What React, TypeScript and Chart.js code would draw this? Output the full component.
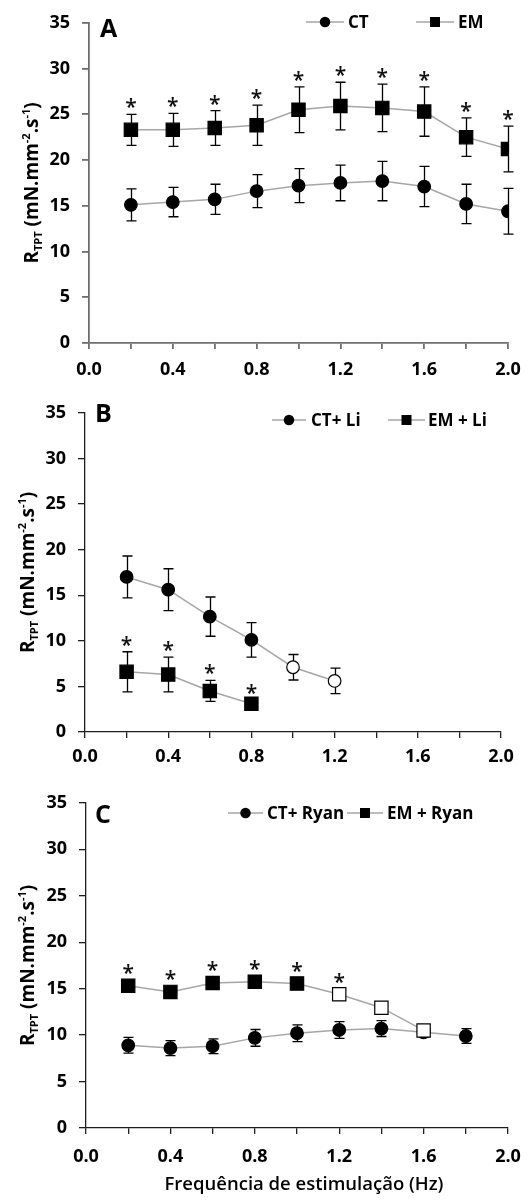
import { useEffect, useRef } from 'react';
import { Chart, registerables } from 'chart.js';

Chart.register(...registerables);

const FONT = '"Open Sans", "Noto Sans", "DejaVu Sans", sans-serif';
const WIDTH = 531;

// Shared axes
const xTicks = [0, 0.2, 0.4, 0.6, 0.8, 1.0, 1.2, 1.4, 1.6, 1.8, 2.0];
const xLabelTicks = [0, 0.4, 0.8, 1.2, 1.6, 2.0];
const yTicks = [0, 5, 10, 15, 20, 25, 30, 35];

// Panel A: CT vs EM
const freqA = [0.2, 0.4, 0.6, 0.8, 1.0, 1.2, 1.4, 1.6, 1.8, 2.0];
const ctA = [15.1, 15.4, 15.7, 16.6, 17.2, 17.5, 17.7, 17.1, 15.2, 14.4];
const ctAErr = [1.75, 1.6, 1.65, 1.8, 1.85, 1.95, 2.15, 2.2, 2.15, 2.5];
const emA = [23.3, 23.3, 23.5, 23.8, 25.5, 25.9, 25.7, 25.3, 22.5, 21.2];
const emAErr = [1.7, 1.8, 1.9, 2.2, 2.5, 2.6, 2.6, 2.7, 2.1, 2.5];
const emAStar = [true, true, true, true, true, true, true, true, true, true];

// Panel B: CT + Li vs EM + Li
const freqBct = [0.2, 0.4, 0.6, 0.8, 1.0, 1.2];
const ctB = [17.0, 15.6, 12.65, 10.1, 7.1, 5.6];
const ctBErr = [2.3, 2.3, 2.15, 1.9, 1.4, 1.4];
const ctBOpen = [false, false, false, false, true, true];
const freqBem = [0.2, 0.4, 0.6, 0.8];
const emB = [6.6, 6.3, 4.5, 3.1];
const emBErr = [2.2, 1.9, 1.15, 0.4];
const emBStar = [true, true, true, true];

// Panel C: CT + Ryan vs EM + Ryan
const freqCct = [0.2, 0.4, 0.6, 0.8, 1.0, 1.2, 1.4, 1.6, 1.8];
const ctC = [8.9, 8.6, 8.8, 9.7, 10.2, 10.55, 10.7, 10.3, 9.9];
const ctCErr = [0.85, 0.8, 0.8, 0.9, 0.9, 0.9, 0.85, 0.5, 0.8];
const freqCem = [0.2, 0.4, 0.6, 0.8, 1.0, 1.2, 1.4, 1.6];
const emC = [15.3, 14.65, 15.6, 15.75, 15.55, 14.4, 12.95, 10.5];
const emCErr = [0.6, 0.6, 0.6, 0.6, 0.6, 0.6, 0.5, 0.5];
const emCOpen = [false, false, false, false, false, true, true, true];
const emCStar = [true, true, true, true, true, true, false, false];

const none = (n: number) => new Array(n).fill(false);

type Series = {
  label: string;
  x: number[];
  y: number[];
  err: number[];
  open: boolean[];
  star: boolean[];
  marker: 'circle' | 'rect';
};

type LegendSlot = { from: number; to: number; textX: number };

type PanelSpec = {
  letter: string;
  top: number;
  height: number;
  area: { left: number; right: number; top: number; bottom: number };
  axisColor: string;
  axisWidth: number;
  xLabelGap: number;
  letterPos: [number, number];
  legendY: number;
  legend: LegendSlot[];
  yTitleX: number;
  xTitle?: { text: string; x: number; y: number };
  series: Series[];
};

const panels: PanelSpec[] = [
  {
    letter: 'A',
    top: 0,
    height: 390,
    area: { left: 89, right: 508, top: 15, bottom: 343 },
    axisColor: '#6f6f6f',
    axisWidth: 1.8,
    xLabelGap: 27,
    letterPos: [100, 37],
    legendY: 22,
    legend: [
      { from: 306, to: 344, textX: 348 },
      { from: 416, to: 454, textX: 458 },
    ],
    yTitleX: 38,
    series: [
      { label: 'CT', x: freqA, y: ctA, err: ctAErr, open: none(10), star: none(10), marker: 'circle' },
      { label: 'EM', x: freqA, y: emA, err: emAErr, open: none(10), star: emAStar, marker: 'rect' },
    ],
  },
  {
    letter: 'B',
    top: 390,
    height: 390,
    area: { left: 85, right: 501, top: 14, bottom: 342 },
    axisColor: '#1e1e1e',
    axisWidth: 1.3,
    xLabelGap: 25,
    letterPos: [95, 32],
    legendY: 30,
    legend: [
      { from: 272, to: 306, textX: 311 },
      { from: 388, to: 425, textX: 428 },
    ],
    yTitleX: 34,
    series: [
      { label: 'CT+ Li', x: freqBct, y: ctB, err: ctBErr, open: ctBOpen, star: none(6), marker: 'circle' },
      { label: 'EM + Li', x: freqBem, y: emB, err: emBErr, open: none(4), star: emBStar, marker: 'rect' },
    ],
  },
  {
    letter: 'C',
    top: 780,
    height: 423,
    area: { left: 86, right: 508, top: 20, bottom: 348 },
    axisColor: '#1e1e1e',
    axisWidth: 1.3,
    xLabelGap: 29,
    letterPos: [95, 43],
    legendY: 33,
    legend: [
      { from: 228, to: 263, textX: 267 },
      { from: 347, to: 383, textX: 387 },
    ],
    yTitleX: 34,
    xTitle: { text: 'Frequência de estimulação (Hz)', x: 304, y: 410 },
    series: [
      { label: 'CT+ Ryan', x: freqCct, y: ctC, err: ctCErr, open: none(9), star: none(9), marker: 'circle' },
      { label: 'EM + Ryan', x: freqCem, y: emC, err: emCErr, open: emCOpen, star: emCStar, marker: 'rect' },
    ],
  },
];

// Y-axis title pieces: R with subscript TPT, unit with superscript exponents
const yTitleParts: { t: string; k: 'n' | 'sub' | 'sup' }[] = [
  { t: 'R', k: 'n' },
  { t: 'TPT', k: 'sub' },
  { t: ' (mN.mm', k: 'n' },
  { t: '-2', k: 'sup' },
  { t: '.s', k: 'n' },
  { t: '-1', k: 'sup' },
  { t: ')', k: 'n' },
];

const LINE_GREY = '#a6a6a6';
const TICK_FONT = `bold 18px ${FONT}`;

function drawMarker(ctx: CanvasRenderingContext2D, kind: 'circle' | 'rect', x: number, y: number, size: number) {
  ctx.beginPath();
  if (kind === 'circle') ctx.arc(x, y, size / 2, 0, Math.PI * 2);
  else ctx.rect(x - size / 2, y - size / 2, size, size);
  ctx.fill();
}

function makePlugin(spec: PanelSpec) {
  return {
    id: 'panelDecor' + spec.letter,
    beforeDatasetsDraw(chart: any) {
      const { ctx } = chart;
      const xs = chart.scales.x;
      const ys = chart.scales.y;
      ctx.save();
      ctx.strokeStyle = '#000';
      ctx.lineWidth = 1.3;
      spec.series.forEach((s) => {
        s.x.forEach((xv, i) => {
          const px = Math.round(xs.getPixelForValue(xv)) + 0.5;
          const t = ys.getPixelForValue(s.y[i] + s.err[i]);
          const b = ys.getPixelForValue(s.y[i] - s.err[i]);
          ctx.beginPath();
          ctx.moveTo(px, t);
          ctx.lineTo(px, b);
          ctx.moveTo(px - 5, t);
          ctx.lineTo(px + 5, t);
          ctx.moveTo(px - 5, b);
          ctx.lineTo(px + 5, b);
          ctx.stroke();
        });
      });
      ctx.restore();
    },
    afterDatasetsDraw(chart: any) {
      const { ctx } = chart;
      const xs = chart.scales.x;
      const ys = chart.scales.y;
      ctx.save();
      ctx.fillStyle = '#111';
      ctx.font = `600 21px ${FONT}`;
      ctx.textAlign = 'center';
      ctx.textBaseline = 'alphabetic';
      const m = ctx.measureText('*');
      const shift = (m.actualBoundingBoxAscent - m.actualBoundingBoxDescent) / 2;
      spec.series.forEach((s) => {
        s.x.forEach((xv, i) => {
          if (!s.star[i]) return;
          const px = xs.getPixelForValue(xv);
          const top = ys.getPixelForValue(s.y[i] + s.err[i]);
          const centre = top - 11;
          ctx.fillText('*', px, centre + shift);
        });
      });
      ctx.restore();
    },
    afterDraw(chart: any) {
      const { ctx, chartArea } = chart;
      const xs = chart.scales.x;
      ctx.save();

      // X tick labels (every second tick mark carries a label)
      ctx.fillStyle = '#000';
      ctx.font = TICK_FONT;
      ctx.textAlign = 'center';
      ctx.textBaseline = 'middle';
      xLabelTicks.forEach((v) => {
        ctx.fillText(v.toFixed(1), xs.getPixelForValue(v), chartArea.bottom + spec.xLabelGap);
      });

      // Panel letter
      ctx.font = `bold 25px ${FONT}`;
      ctx.textAlign = 'left';
      ctx.textBaseline = 'alphabetic';
      ctx.fillText(spec.letter, spec.letterPos[0], spec.letterPos[1]);

      // Legend
      spec.series.forEach((s, i) => {
        const slot = spec.legend[i];
        ctx.strokeStyle = LINE_GREY;
        ctx.lineWidth = 1.5;
        ctx.beginPath();
        ctx.moveTo(slot.from, spec.legendY);
        ctx.lineTo(slot.to, spec.legendY);
        ctx.stroke();
        ctx.fillStyle = '#000';
        drawMarker(ctx, s.marker, (slot.from + slot.to) / 2, spec.legendY, s.marker === 'circle' ? 10.5 : 10);
        ctx.font = `bold 17px ${FONT}`;
        ctx.textBaseline = 'middle';
        ctx.fillText(s.label, slot.textX, spec.legendY + 1);
      });

      // Rotated y-axis title with sub/superscripts
      const big = `bold 19px ${FONT}`;
      const small = `bold 11px ${FONT}`;
      ctx.textBaseline = 'alphabetic';
      ctx.textAlign = 'left';
      let total = 0;
      yTitleParts.forEach((p) => {
        ctx.font = p.k === 'n' ? big : small;
        total += ctx.measureText(p.t).width;
      });
      ctx.translate(spec.yTitleX, (chartArea.top + chartArea.bottom) / 2);
      ctx.rotate(-Math.PI / 2);
      let cx = -total / 2;
      yTitleParts.forEach((p) => {
        ctx.font = p.k === 'n' ? big : small;
        const dy = p.k === 'sub' ? 4 : p.k === 'sup' ? -8 : 0;
        ctx.fillText(p.t, cx, dy);
        cx += ctx.measureText(p.t).width;
      });
      ctx.setTransform(1, 0, 0, 1, 0, 0);

      if (spec.xTitle) {
        ctx.font = `600 18.5px ${FONT}`;
        ctx.textAlign = 'center';
        ctx.textBaseline = 'alphabetic';
        ctx.fillText(spec.xTitle.text, spec.xTitle.x, spec.xTitle.y);
      }
      ctx.restore();
    },
  };
}

function buildConfig(spec: PanelSpec): any {
  const { area } = spec;
  const tickFont = { family: FONT, size: 18, weight: 'bold' as const };
  return {
    type: 'line',
    data: {
      datasets: spec.series.map((s, idx) => ({
        label: s.label,
        data: s.x.map((xv, i) => ({ x: xv, y: s.y[i] })),
        // squares are painted over circles where they meet
        order: idx === 0 ? 1 : 0,
        borderColor: LINE_GREY,
        borderWidth: 1.5,
        tension: 0,
        fill: false,
        pointStyle: s.marker,
        pointRadius: s.marker === 'circle' ? 6.3 : 9.4,
        pointBackgroundColor: s.open.map((o) => (o ? '#ffffff' : '#000000')),
        pointBorderColor: '#000000',
        pointBorderWidth: 1.2,
      })),
    },
    options: {
      responsive: false,
      animation: false,
      events: [],
      layout: { padding: { left: 0, top: area.top, right: WIDTH - area.right, bottom: 0 } },
      plugins: { legend: { display: false }, tooltip: { enabled: false } },
      scales: {
        x: {
          type: 'linear',
          min: 0,
          max: 2,
          afterBuildTicks: (s: any) => {
            s.ticks = xTicks.map((v) => ({ value: v }));
          },
          afterFit: (s: any) => {
            s.height = spec.height - area.bottom;
          },
          grid: {
            drawOnChartArea: false,
            drawTicks: true,
            tickLength: 6,
            color: spec.axisColor,
            lineWidth: spec.axisWidth,
          },
          border: { display: true, color: spec.axisColor, width: spec.axisWidth },
          ticks: { display: false },
        },
        y: {
          type: 'linear',
          min: 0,
          max: 35,
          afterBuildTicks: (s: any) => {
            s.ticks = yTicks.map((v) => ({ value: v }));
          },
          afterFit: (s: any) => {
            s.width = area.left;
          },
          grid: {
            drawOnChartArea: false,
            drawTicks: true,
            tickLength: 7,
            color: spec.axisColor,
            lineWidth: spec.axisWidth,
          },
          border: { display: true, color: spec.axisColor, width: spec.axisWidth },
          ticks: {
            autoSkip: false,
            padding: 12,
            color: '#000',
            font: tickFont,
            callback: (v: number) => String(v),
          },
        },
      },
    },
    plugins: [makePlugin(spec)],
  };
}

function Panel({ spec }: { spec: PanelSpec }) {
  const ref = useRef<HTMLCanvasElement>(null);
  useEffect(() => {
    const chart = new Chart(ref.current as HTMLCanvasElement, buildConfig(spec));
    return () => chart.destroy();
  }, [spec]);
  return (
    <canvas
      ref={ref}
      width={WIDTH}
      height={spec.height}
      style={{ position: 'absolute', left: 0, top: spec.top, width: WIDTH, height: spec.height }}
    />
  );
}

export default function App() {
  return (
    <div style={{ position: 'absolute', left: 0, top: 0, width: WIDTH, height: 1203, background: '#ffffff' }}>
      {panels.map((p) => (
        <Panel key={p.letter} spec={p} />
      ))}
    </div>
  );
}
